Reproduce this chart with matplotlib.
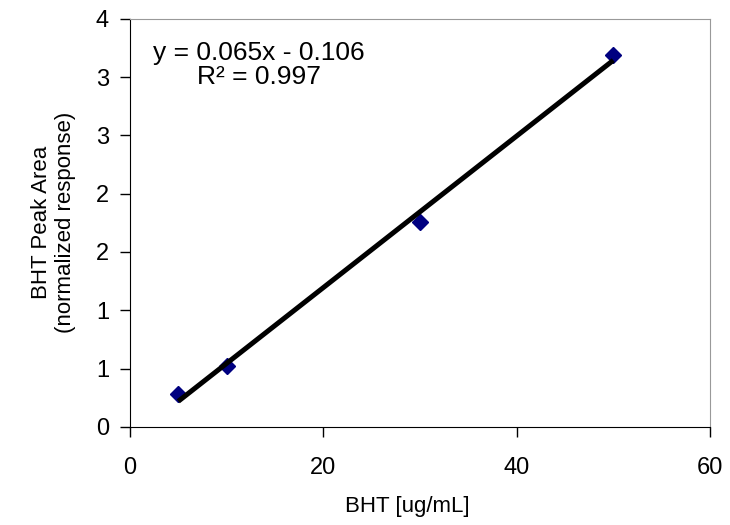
import matplotlib
matplotlib.use("Agg")
import matplotlib.pyplot as plt
import numpy as np

plt.rcParams['font.family'] = ['Liberation Sans', 'DejaVu Sans']

conc = [5, 10, 30, 50]
area = [0.28, 0.523, 1.757, 3.19]
slope = 0.065
intercept = -0.106
eq_text = "y = 0.065x - 0.106\nR² = 0.997"
yticks = [0, 0.5, 1, 1.5, 2, 2.5, 3, 3.5]
ytick_labels = ["0", "1", "1", "2", "2", "3", "3", "4"]
xticks = [0, 20, 40, 60]

fig = plt.figure(figsize=(7.3, 5.25), dpi=100)
ax = fig.add_axes([0.178, 0.187, 0.7946, 0.7773])

xs = np.array([min(conc), max(conc)])
ax.plot(xs, slope * xs + intercept, color='black', lw=3.6, solid_capstyle='butt', zorder=3)
ax.plot(conc, area, linestyle='none', marker='D', markersize=8.5, color='#000080', zorder=2)

ax.set_xlim(0, 60)
ax.set_ylim(0, 3.5)
ax.set_xticks(xticks)
ax.set_xticklabels([str(v) for v in xticks], fontsize=17)
ax.set_yticks(yticks)
ax.set_yticklabels(ytick_labels, fontsize=17)
ax.tick_params(axis='both', direction='out', length=7, width=1)
ax.tick_params(axis='x', pad=15)
ax.tick_params(axis='y', pad=8)
for s in ['top', 'right']:
    ax.spines[s].set_color('#999999')
for s in ['left', 'bottom']:
    ax.spines[s].set_color('black')

ax.set_xlabel("BHT [ug/mL]", fontsize=16)
ax.xaxis.set_label_coords(0.478, -0.17)
ax.set_ylabel("BHT Peak Area\n(normalized response)", fontsize=16)
ax.yaxis.set_label_coords(-0.093, 0.5)

ax.text(0.222, 0.945, eq_text, transform=ax.transAxes, fontsize=19,
        ha='center', va='top', multialignment='center', linespacing=1.0)

fig.savefig("out.png", dpi=100)
